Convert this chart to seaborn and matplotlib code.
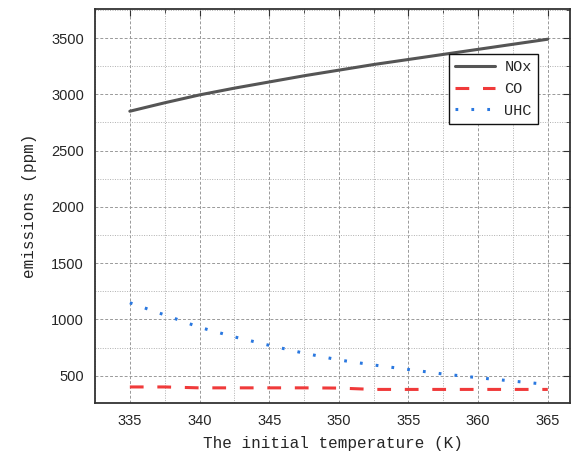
import matplotlib

matplotlib.use("Agg")
import matplotlib.pyplot as plt
import numpy as np
import pandas as pd
import seaborn as sns
from matplotlib.ticker import MultipleLocator

# initial temperature (K)
temperature = [335, 337.5, 340, 342.5, 345, 347.5, 350, 352.5, 355, 357.5, 360, 362.5, 365]
nox = [2850, 2925, 2995, 3055, 3110, 3165, 3215, 3265, 3310, 3355, 3400, 3445, 3490]
co = [400, 400, 392, 392, 392, 392, 390, 378, 378, 378, 378, 378, 378]
uhc = [1148, 1040, 930, 845, 770, 700, 640, 595, 555, 515, 482, 452, 422]

series_names = ["NOx", "CO", "UHC"]
colors = {"NOx": "#555555", "CO": "#f03a3a", "UHC": "#2a78e0"}

df = pd.DataFrame({"T": temperature, "NOx": nox, "CO": co, "UHC": uhc})
long_df = df.melt(id_vars="T", value_vars=series_names, var_name="species", value_name="ppm")

sns.set_style("white")
plt.rcParams["font.family"] = ["Liberation Sans", "DejaVu Sans"]

fig = plt.figure(figsize=(5.71, 4.58), dpi=100)
ax = fig.add_axes([0.1664, 0.120, 0.832, 0.860])

sns.lineplot(
    data=long_df,
    x="T",
    y="ppm",
    hue="species",
    style="species",
    hue_order=series_names,
    style_order=series_names,
    palette=colors,
    dashes={"NOx": "", "CO": (4.5, 4.5), "UHC": (0.9, 4.3)},
    linewidth=2.2,
    ax=ax,
)

ax.set_xlim(332.5, 366.6)
ax.set_ylim(257, 3757)
ax.xaxis.set_major_locator(MultipleLocator(5))
ax.xaxis.set_minor_locator(MultipleLocator(2.5))
ax.yaxis.set_major_locator(MultipleLocator(500))
ax.yaxis.set_minor_locator(MultipleLocator(250))

ax.grid(which="major", color="#999999", linestyle=(0, (3, 2)), linewidth=0.7)
ax.grid(which="minor", color="#b0b0b0", linestyle=(0, (1, 1.5)), linewidth=0.7)
ax.tick_params(which="both", direction="in", top=True, right=True, color="#333333")
ax.tick_params(which="major", length=5, labelsize=10.5, pad=8)
ax.tick_params(which="minor", length=3)
for spine in ax.spines.values():
    spine.set_color("#333333")
    spine.set_linewidth(1.3)

mono = ["Liberation Mono", "DejaVu Sans Mono"]
ax.set_xlabel("The initial temperature (K)", family=mono, fontsize=11.5, labelpad=6)
ax.set_ylabel("emissions (ppm)", family=mono, fontsize=11.5, labelpad=10)

handles, labels = ax.get_legend_handles_labels()
leg = ax.legend(
    handles,
    labels,
    loc="upper right",
    bbox_to_anchor=(0.948, 0.905),
    prop={"family": mono, "size": 11},
    frameon=True,
    fancybox=False,
    edgecolor="#111111",
    framealpha=1,
    handlelength=2.6,
    handletextpad=0.6,
    borderpad=0.4,
    labelspacing=0.5,
)
leg.get_frame().set_linewidth(1.0)

fig.savefig("out.png", dpi=100)
plt.close(fig)
